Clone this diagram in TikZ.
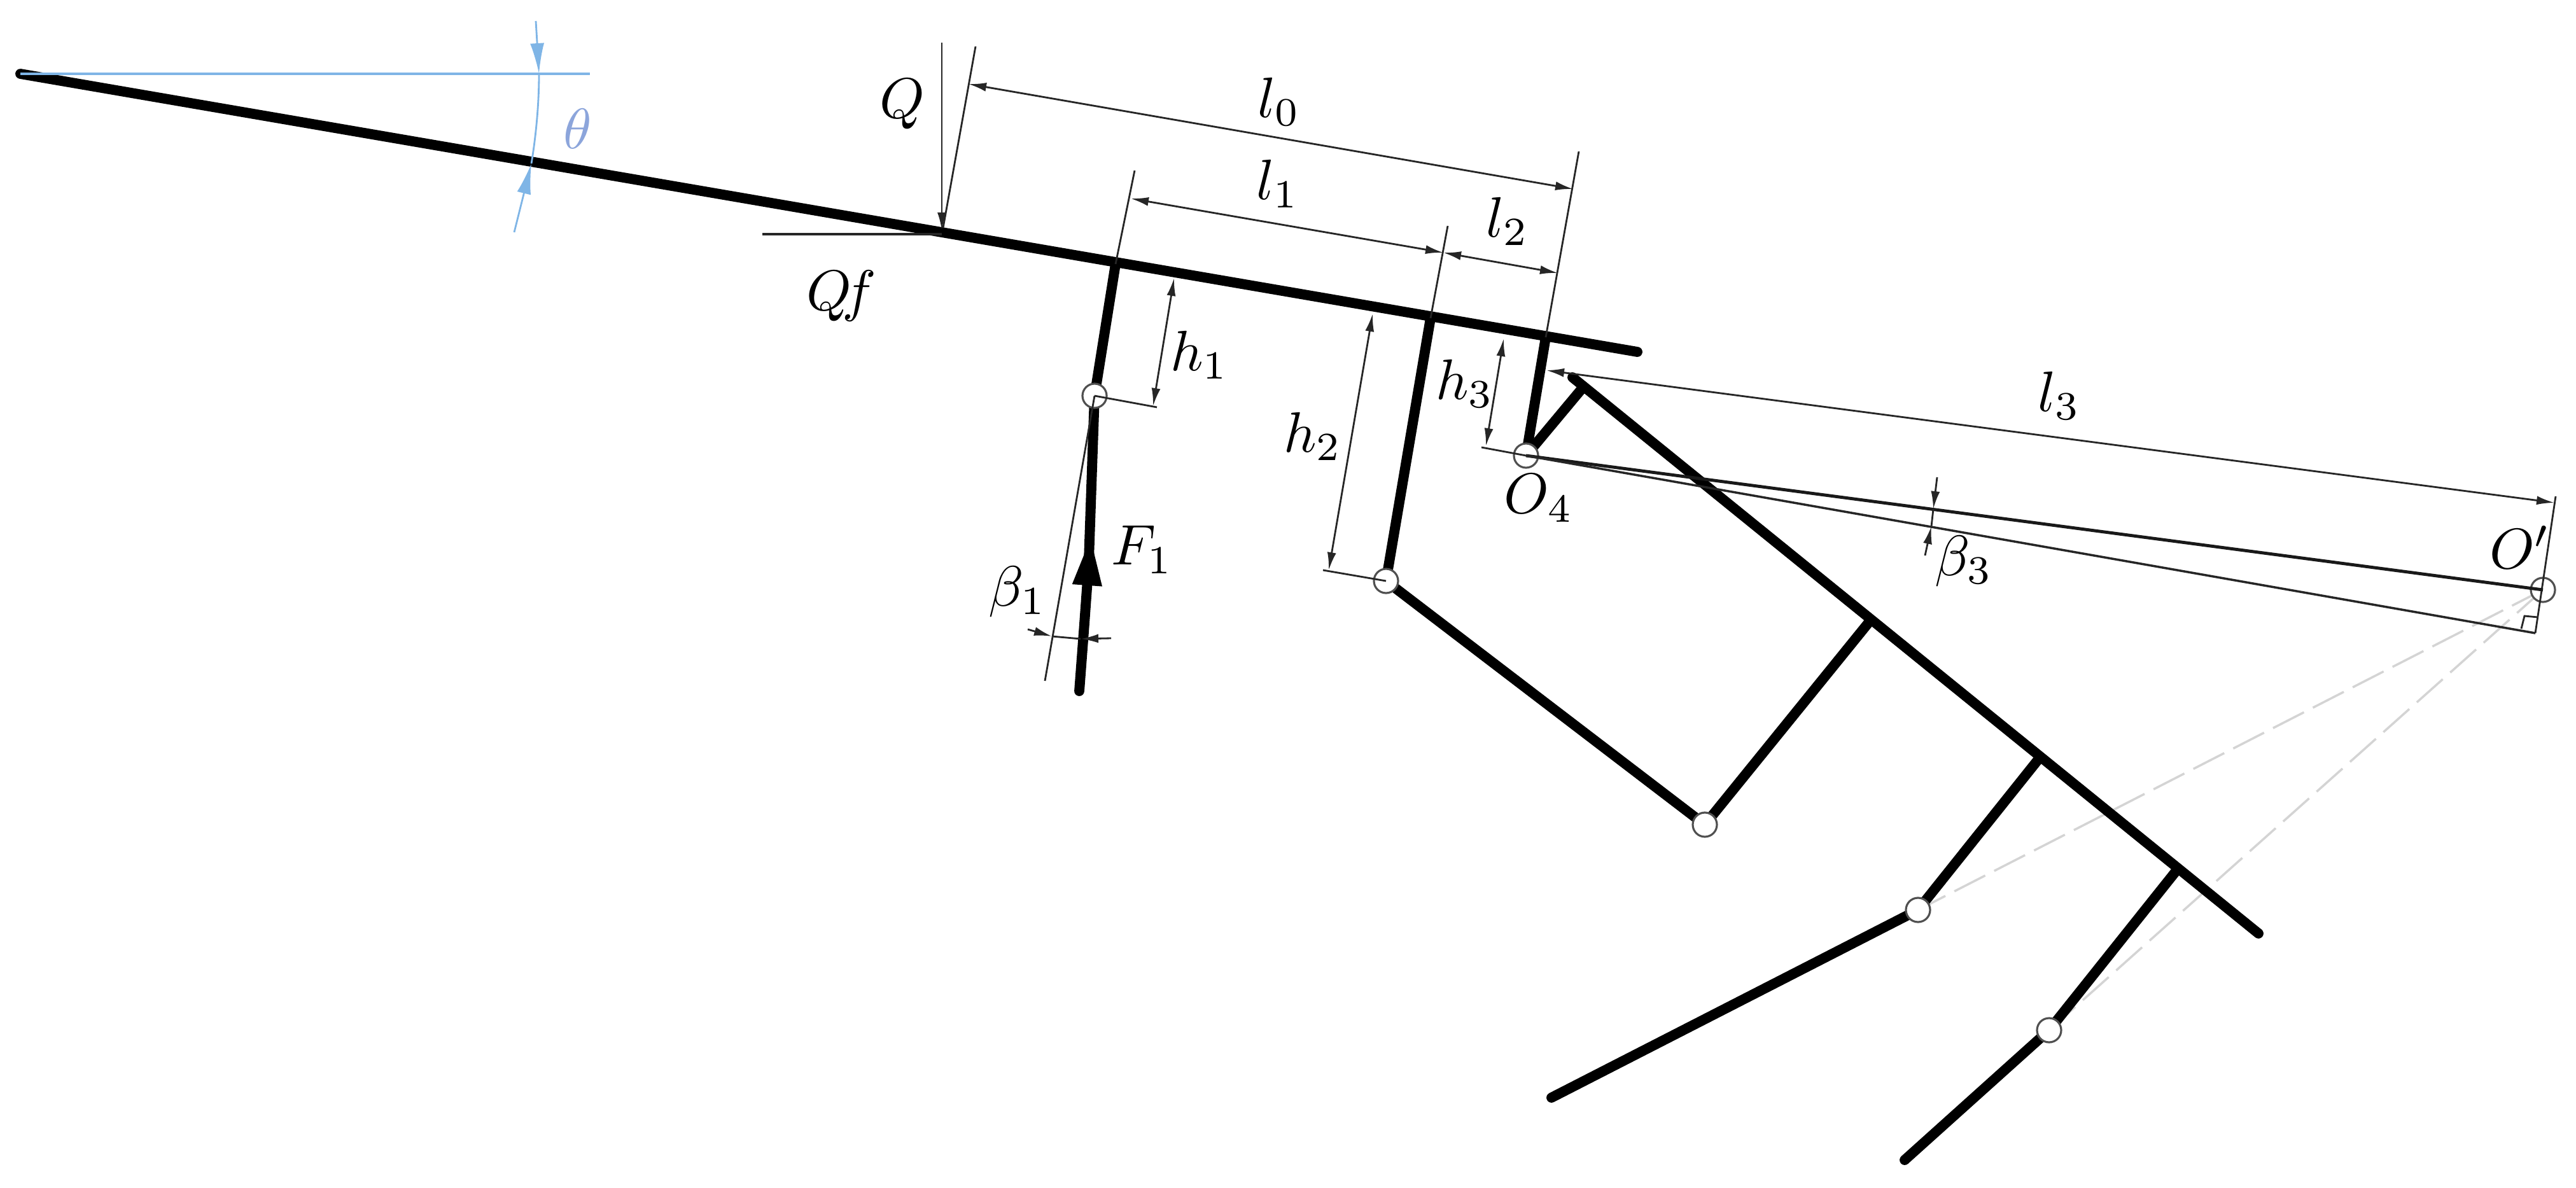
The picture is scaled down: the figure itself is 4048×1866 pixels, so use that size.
\documentclass[tikz,border=0pt]{standalone}
\usepackage{xcolor}
\usepackage{tikz}
\usetikzlibrary{arrows.meta}

\definecolor{anglineblue}{HTML}{7FB5E6}
\definecolor{angtextblue}{HTML}{8CA5DB}
\definecolor{hingegray}{HTML}{505050}
\definecolor{dashgray}{HTML}{D4D4D4}

\begin{document}
\begin{tikzpicture}[x=0.01cm,y=-0.01cm,
    >={Latex[length=2.8mm,width=1.4mm]},
    link/.style={line width=4.5pt,line cap=round},
    hinge/.style={circle,draw=hingegray,line width=0.9pt,fill=white,inner sep=0pt,minimum size=0.38cm},
    dimline/.style={line width=0.8pt,black!85},
    centerline/.style={line width=1.4pt,black!90},
    sideline/.style={line width=1pt,black!85},
    dimlabel/.style={scale=2.55,inner sep=0pt},
    ghost/.style={line width=1pt,dashgray,dash pattern=on 15.5pt off 4.5pt},
    blueline/.style={line width=0.8pt,anglineblue},
    bluetip/.style={blueline,-{Latex[length=4.8mm,width=2.2mm]}}]
    \useasboundingbox (0,0) rectangle (4048,1866);

    % Frame points
    \coordinate (beamL) at (32,116);
    \coordinate (beamR) at (2573,553);
    \coordinate (armT) at (2471,593);
    \coordinate (armB) at (3549,1467);
    \coordinate (foot1) at (1753,415);
    \coordinate (foot2) at (2248,500);
    \coordinate (foot3) at (2429,530);
    \coordinate (armA) at (2484,613);
    \coordinate (armC) at (2940,974);
    \coordinate (armD) at (3205,1191);
    \coordinate (armE) at (3421,1367);
    \coordinate (forceB) at (1696,1086);
    \coordinate (forceT) at (1711,880);
    \coordinate (forceA) at (1714,842);
    \coordinate (forceM) at (1704,980);
    \coordinate (rodB) at (2438,1725);
    \coordinate (rodC) at (2993,1823);

    % Hinge centres
    \coordinate (pointA) at (1720,622);
    \coordinate (pointB) at (2178,913);
    \coordinate (pointO) at (2398,716);
    \coordinate (pointC) at (2679,1296);
    \coordinate (pointD) at (3014,1430);
    \coordinate (pointE) at (3220,1619);
    \coordinate (pointP) at (3996,927);

    % Rays to the instant centre
    \draw[ghost] (pointP) -- (pointD);
    \draw[ghost] (pointP) -- (pointE);

    % Rigid links
    \draw[link] (beamL) -- (beamR);
    \draw[link] (armT) -- (armB);
    \draw[link] (foot1) -- (pointA);
    \draw[link] (foot2) -- (pointB);
    \draw[link] (foot3) -- (pointO);
    \draw[link] (armA) -- (pointO);
    \draw[link] (pointB) -- (pointC);
    \draw[link] (armC) -- (pointC);
    \draw[link] (armD) -- (pointD);
    \draw[link] (armE) -- (pointE);
    \draw[link] (pointD) -- (rodB);
    \draw[link] (pointE) -- (rodC);
    \draw[link] (pointA) -- (forceT);
    \draw[link] (forceB) -- (forceM);
    \draw[line width=4.5pt,line cap=butt,-{Triangle[length=7.8mm,width=4.2mm,sep=0pt]}] (forceM) -- (forceA);

    % Hinges
    \node[hinge] (hingeA) at (pointA) {};
    \node[hinge] (hingeB) at (pointB) {};
    \node[hinge] (hingeO) at (pointO) {};
    \node[hinge] (hingeC) at (pointC) {};
    \node[hinge] (hingeD) at (pointD) {};
    \node[hinge] (hingeE) at (pointE) {};
    \node[hinge] (hingeP) at (pointP) {};

    % Angle theta
    \coordinate (thetaT) at (842,33);
    \coordinate (thetaA) at (847,116);
    \coordinate (thetaB) at (835,257);
    \coordinate (thetaS) at (808,365);
    \draw[line width=1.2pt,anglineblue] (beamL) -- (927,116);
    \draw[bluetip] (thetaT) -- (thetaA);
    \draw[bluetip] (thetaS) -- (thetaB);
    \draw[blueline] (thetaA) .. controls (847,165) and (842,215) .. (thetaB);
    \node[dimlabel,text=angtextblue] (labTheta) at (908,202) {$\theta$};

    % Load Q and friction
    \coordinate (loadT) at (1480,67);
    \coordinate (loadB) at (1480,362);
    \coordinate (fricL) at (1198,368);
    \coordinate (fricR) at (1480,368);
    \draw[dimline,->] (loadT) -- (loadB);
    \draw[sideline] (fricL) -- (fricR);
    \node[dimlabel] (labQ) at (1418,164) {$Q$};
    \node[dimlabel] (labQf) at (1322,465) {$Q\!f$};

    % Extension lines along the beam
    \coordinate (extA) at (1533,73);
    \coordinate (extAb) at (1482,358);
    \coordinate (extB) at (1783,268);
    \coordinate (extC) at (2275,355);
    \coordinate (extD) at (2481,238);
    \draw[dimline] (extA) -- (extAb);
    \draw[dimline] (extB) -- (foot1);
    \draw[dimline] (extC) -- (foot2);
    \draw[dimline] (extD) -- (foot3);

    % l0, l1, l2
    \draw[dimline,<->] (1522,132) -- (2472,297);
    \draw[dimline,<->] (1777,312) -- (2268,397);
    \draw[dimline,<->] (2268,397) -- (2448,429);
    \node[dimlabel] (labL0) at (2010,160) {$l_0$};
    \node[dimlabel] (labL1) at (2008,289) {$l_1$};
    \node[dimlabel] (labL2) at (2369,348) {$l_2$};

    % h1, h2, h3
    \draw[dimline] (pointA) -- (1818,640);
    \draw[dimline] (2079,896) -- (pointB);
    \draw[dimline] (2328,703) -- (pointO);
    \draw[dimline,<->] (1845,437) -- (1812,638);
    \draw[dimline,<->] (2157,493) -- (2088,896);
    \draw[dimline,<->] (2363,532) -- (2335,701);
    \node[dimlabel] (labH1) at (1885,558) {$h_1$};
    \node[dimlabel] (labH2) at (2063,686) {$h_2$};
    \node[dimlabel] (labH3) at (2302,603) {$h_3$};

    % Force F1 and angle beta1
    \coordinate (betaL) at (1642,1070);
    \coordinate (betaA) at (1615,989);
    \coordinate (betaB) at (1653,1000);
    \coordinate (betaC) at (1698,1004);
    \coordinate (betaD) at (1746,1003);
    \draw[dimline] (pointA) -- (betaL);
    \draw[dimline,->] (betaA) -- (betaB);
    \draw[dimline,->] (betaD) -- (betaC);
    \draw[dimline] (betaB) -- (betaC);
    \node[dimlabel] (labF) at (1795,864) {$F_1$};
    \node[dimlabel] (labB1) at (1599,930) {$\beta_1$};
    \node[dimlabel] (labO4) at (2418,783) {$O_4$};

    % l3 and the lines through O4
    \coordinate (extP) at (4016,780);
    \coordinate (extQ) at (3984,995);
    \draw[dimline] (extP) -- (extQ);
    \draw[dimline,<->] (2430,582) -- (4014,790);
    \draw[centerline] (pointO) -- (pointP);
    \draw[sideline] (pointO) -- (extQ);
    \draw[dimline] (3962,988) -- (3967,968) -- (3988,970);
    \node[dimlabel] (labL3) at (3236,622) {$l_3$};
    \node[dimlabel] (labOp) at (3960,860) {$O'$};

    % Angle beta3
    \coordinate (gapT) at (3044,750);
    \coordinate (gapA) at (3038,800);
    \coordinate (gapB) at (3035,827);
    \coordinate (gapS) at (3025,873);
    \draw[dimline,->] (gapT) -- (gapA);
    \draw[dimline,->] (gapS) -- (gapB);
    \draw[dimline] (gapA) -- (gapB);
    \node[dimlabel] (labB3) at (3086,882) {$\beta_3$};
\end{tikzpicture}
\end{document}
